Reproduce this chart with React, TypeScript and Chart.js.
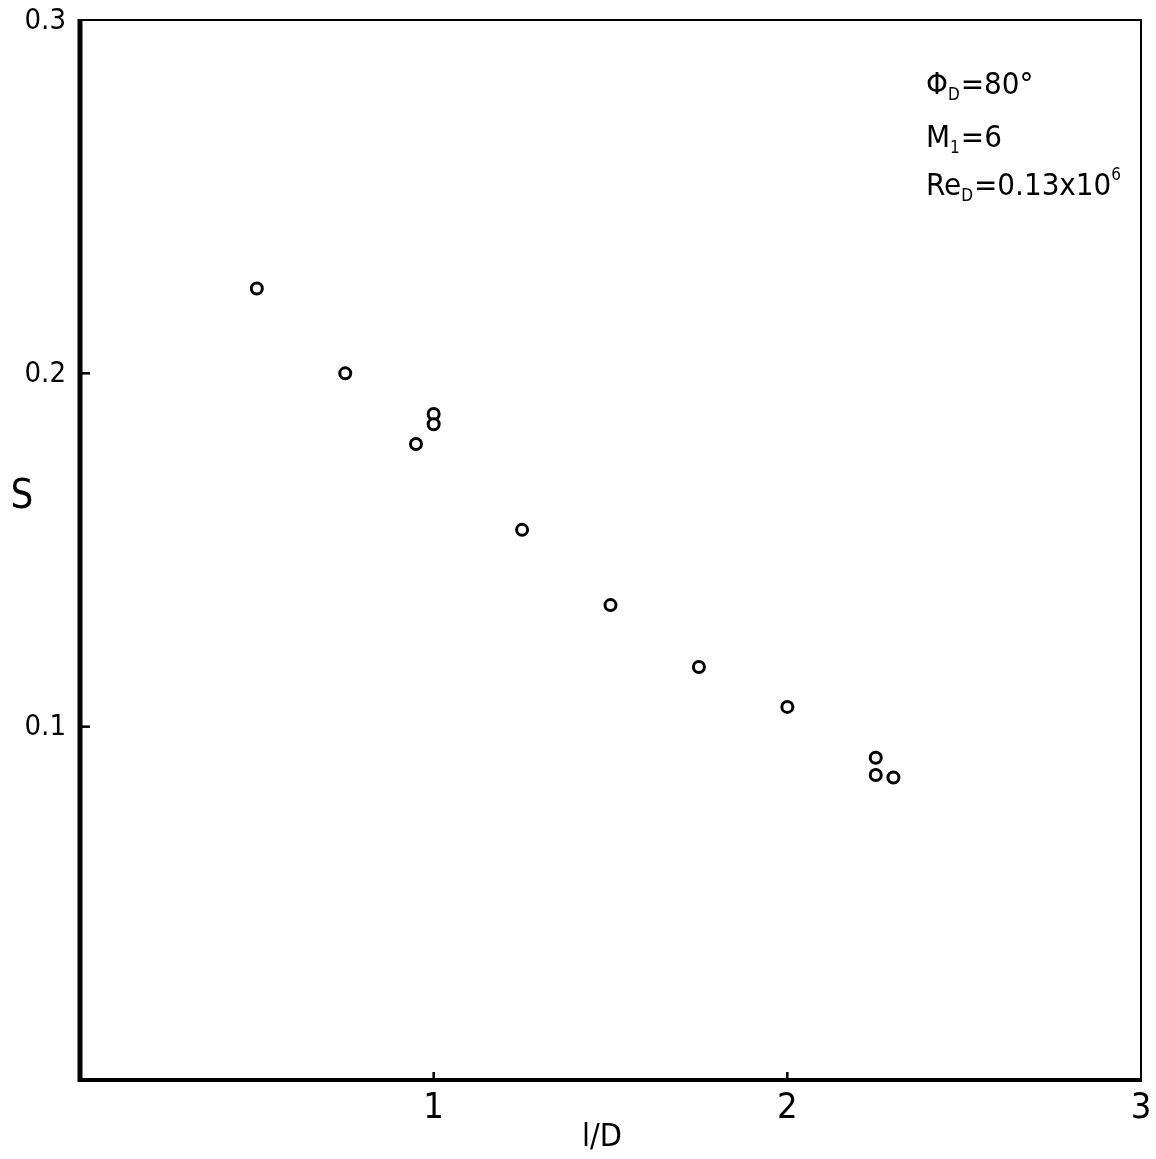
import React, { useEffect, useRef } from "react";
import { Chart, registerables } from "chart.js";

Chart.register(...registerables);

const xValues = [0.5, 0.75, 0.95, 1.0, 1.0, 1.25, 1.5, 1.75, 2.0, 2.25, 2.25, 2.3];
const sValues = [0.224, 0.2, 0.18, 0.1885, 0.1856, 0.1557, 0.1344, 0.1169, 0.1056, 0.0912, 0.0863, 0.0856];
const xTickValues = [1, 2, 3];
const yTickValues = [0.1, 0.2, 0.3];
const xTitle = "l/D";
const yTitle = "S";

const FONT = "'Liberation Sans Narrow', 'DejaVu Sans Condensed', 'Liberation Sans', sans-serif";

const framePlugin = {
  id: "frame",
  afterDraw(chart: any) {
    const { ctx, chartArea } = chart;
    const { left, right, top, bottom } = chartArea;
    const xs = chart.scales.x;
    const ys = chart.scales.y;
    ctx.save();
    ctx.strokeStyle = "#000";
    ctx.lineCap = "butt";
    // top & right thin
    ctx.lineWidth = 2;
    ctx.beginPath();
    ctx.moveTo(left, top);
    ctx.lineTo(right, top);
    ctx.lineTo(right, bottom);
    ctx.stroke();
    // left thick
    ctx.lineWidth = 5;
    ctx.beginPath();
    ctx.moveTo(left, top - 1);
    ctx.lineTo(left, bottom + 2);
    ctx.stroke();
    // bottom thick
    ctx.lineWidth = 4;
    ctx.beginPath();
    ctx.moveTo(left - 2, bottom);
    ctx.lineTo(right + 1, bottom);
    ctx.stroke();
    // inward ticks
    ctx.lineWidth = 2.5;
    xTickValues.slice(0, 2).forEach((v) => {
      const px = xs.getPixelForValue(v);
      ctx.beginPath();
      ctx.moveTo(px, bottom);
      ctx.lineTo(px, bottom - 8);
      ctx.stroke();
    });
    yTickValues.slice(0, 2).forEach((v) => {
      const py = ys.getPixelForValue(v);
      ctx.beginPath();
      ctx.moveTo(left, py);
      ctx.lineTo(left + 10, py);
      ctx.stroke();
    });
    ctx.fillStyle = "#000";
    // tick labels
    ctx.textBaseline = "middle";
    ctx.textAlign = "center";
    ctx.font = `36px ${FONT}`;
    xTickValues.forEach((v) => {
      ctx.fillText(String(v), xs.getPixelForValue(v), bottom + 29);
    });
    ctx.textAlign = "right";
    ctx.font = `29px ${FONT}`;
    yTickValues.forEach((v) => {
      ctx.fillText(v.toFixed(1), left - 14, ys.getPixelForValue(v) + 1);
    });
    // axis titles
    ctx.textAlign = "center";
    ctx.font = `32px ${FONT}`;
    ctx.fillText(xTitle, 602, 1138);
    ctx.font = `40px ${FONT}`;
    ctx.fillText(yTitle, 22, 498);

    // annotation
    ctx.textAlign = "left";
    ctx.textBaseline = "alphabetic";
    const big = `31px ${FONT}`;
    const small = `17px ${FONT}`;
    const drawRun = (x: number, baseline: number, parts: [string, string][]) => {
      let cx = x;
      parts.forEach(([txt, kind]) => {
        if (kind === "n") {
          ctx.font = big;
          ctx.fillText(txt, cx, baseline);
        } else if (kind === "sub") {
          ctx.font = small;
          ctx.fillText(txt, cx, baseline + 6);
        } else {
          ctx.font = small;
          ctx.fillText(txt, cx, baseline - 15);
        }
        cx += ctx.measureText(txt).width + (kind === "n" ? 0 : 1);
      });
    };
    drawRun(926, 94, [["Φ", "n"], ["D", "sub"], ["=80°", "n"]]);
    drawRun(926, 147, [["M", "n"], ["1", "sub"], ["=6", "n"]]);
    drawRun(926, 195, [["Re", "n"], ["D", "sub"], ["=0.13x10", "n"], ["6", "sup"]]);
    ctx.restore();
  },
};

export default function App() {
  const ref = useRef<HTMLCanvasElement | null>(null);
  useEffect(() => {
    if (!ref.current) return;
    const chart = new Chart(ref.current, {
      type: "scatter",
      data: {
        datasets: [
          {
            data: xValues.map((x, i) => ({ x, y: sValues[i] })),
            pointStyle: "circle",
            pointRadius: 5.5,
            pointBorderWidth: 3,
            borderColor: "#000",
            backgroundColor: "#fff",
            pointBackgroundColor: "#fff",
            pointBorderColor: "#000",
          },
        ],
      },
      options: {
        animation: false,
        responsive: false,
        layout: { padding: { top: 20, right: 15, left: 0, bottom: 0 } },
        plugins: { legend: { display: false }, tooltip: { enabled: false } },
        scales: {
          x: {
            type: "linear",
            min: 0,
            max: 3,
            afterFit: (s: any) => {
              s.height = 79;
              s.paddingLeft = 0;
              s.paddingRight = 0;
            },
            grid: { display: false, drawTicks: false },
            border: { display: false },
            ticks: { display: false },
          },
          y: {
            type: "linear",
            min: 0,
            max: 0.3,
            afterFit: (s: any) => {
              s.width = 80;
              s.paddingTop = 0;
              s.paddingBottom = 0;
            },
            grid: { display: false, drawTicks: false },
            border: { display: false },
            ticks: { display: false },
          },
        },
      },
      plugins: [framePlugin],
    });
    return () => chart.destroy();
  }, []);
  return (
    <canvas
      ref={ref}
      width={1156}
      height={1159}
      style={{ position: "absolute", left: 0, top: 0, display: "block", background: "#fff" }}
    />
  );
}
